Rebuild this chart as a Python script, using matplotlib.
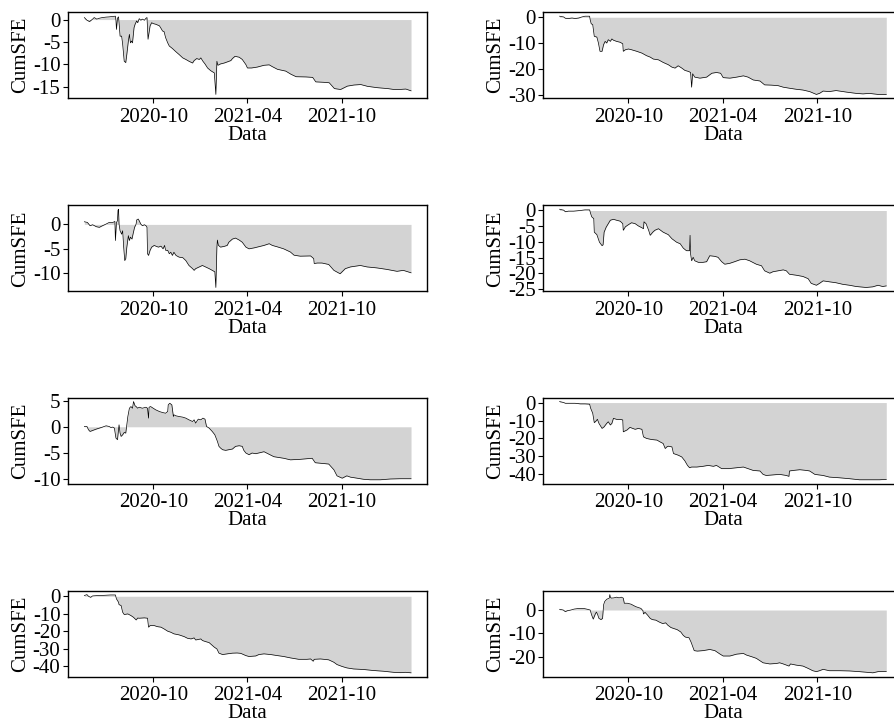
import matplotlib
matplotlib.use("Agg")
import matplotlib.pyplot as plt
import pandas as pd

plt.rcParams['font.family'] = ['Liberation Serif', 'DejaVu Serif']
plt.rcParams['axes.unicode_minus'] = False

# x values are days counted from 2020-10-01
ORIGIN = pd.Timestamp("2020-10-01")
x_ticks = ["2020-10-01", "2021-04-01", "2021-10-01"]
x_tick_labels = ["2020-10", "2021-04", "2021-10"]

p1_day = [-133, -128, -123, -117, -114, -109, -104, -98, -91, -85, -78, -73, -72, -71, -69, -67, -66, -64,
          -61, -59, -56, -53, -51, -48, -46, -44, -42, -40, -37, -35, -32, -30, -27, -24, -21, -17, -14, -12,
          -10, -8, -6, -3, 0, 5, 12, 15, 18, 21, 24, 28, 31, 37, 44, 50, 57, 63, 69, 76, 79, 84, 89, 92, 96,
          100, 105, 111, 118, 121, 123, 125, 130, 137, 143, 150, 153, 158, 166, 172, 179, 182, 190, 201, 214,
          224, 230, 240, 256, 266, 276, 295, 308, 314, 330, 340, 350, 362, 375, 388, 401, 414, 433, 453, 465,
          475, 488, 498]
p1_cum = [0.45, -0.15, -0.45, 0.1, 0.45, 0.1, 0.3, 0.45, 0.55, 0.6, 0.7, 0.75, -0.15, -2.2, 0.3, 0.6, -0.7,
          -3.7, -3.7, -5.5, -9.3, -9.6, -7.8, -4.8, -3.3, -5.2, -4.8, -5.2, -1.8, -1.05, -0.3, -0.7, 0.2, -0.15,
          0.1, -0.15, 0.3, 0.45, -4.4, -2.9, -1.4, -0.7, -0.9, -1.05, -1.4, -1.95, -2.55, -2.7, -4.05, -5.2,
          -5.9, -6.45, -7.2, -7.8, -8.55, -8.9, -9.3, -9.7, -9.15, -8.7, -8.9, -8.55, -9.3, -9.9, -10.8, -11.4,
          -11.9, -16.7, -9.3, -10.2, -9.9, -9.7, -9.45, -9.15, -8.7, -8.2, -8.4, -8.9, -10.05, -10.8, -10.8,
          -10.6, -10.2, -10.1, -10.5, -11.1, -11.5, -12.2, -12.75, -12.8, -12.9, -13.9, -14.0, -14.1, -15.4,
          -15.6, -14.85, -14.6, -14.5, -14.9, -15.2, -15.4, -15.6, -15.6, -15.5, -15.9]

p2_day = [-133, -125, -122, -116, -109, -103, -96, -90, -84, -75, -74, -72, -69, -66, -61, -58, -55, -51,
          -48, -45, -42, -39, -35, -32, -29, -23, -16, -11, -10, -6, 0, 6, 16, 26, 35, 42, 48, 58, 67, 77, 84,
          90, 96, 103, 109, 116, 120, 122, 124, 128, 138, 151, 161, 170, 178, 183, 196, 209, 222, 231, 241,
          254, 263, 276, 289, 299, 311, 324, 337, 350, 363, 369, 376, 388, 401, 421, 440, 453, 465, 482, 498]
p2_cum = [0.4, 0.1, -0.4, -0.5, -0.3, -0.5, -0.3, 0.1, 0.4, 0.4, -0.9, -2.5, -2.9, -7.4, -7.7, -10.0, -13.2,
          -13.2, -10.6, -9.35, -10.0, -8.7, -9.35, -8.4, -8.9, -9.35, -9.7, -10.3, -13.2, -12.6, -12.3, -12.6,
          -13.2, -13.9, -14.9, -15.45, -16.2, -16.5, -17.5, -18.4, -19.35, -19.7, -18.8, -19.7, -20.6, -21.0,
          -21.4, -27.1, -21.9, -23.2, -23.6, -23.2, -21.7, -21.4, -21.7, -23.4, -23.6, -23.2, -22.7, -23.2,
          -24.3, -24.7, -26.2, -26.3, -26.5, -27.1, -27.5, -27.9, -28.2, -28.8, -29.9, -29.5, -28.6, -28.8,
          -28.4, -29.0, -29.5, -29.7, -29.5, -29.9, -29.9]

p3_day = [-133, -127, -122, -117, -110, -104, -98, -91, -85, -78, -74, -73, -71, -69, -68, -67, -66, -64,
          -61, -59, -57, -55, -53, -51, -48, -46, -44, -41, -39, -36, -33, -32, -29, -27, -24, -21, -17, -14,
          -12, -11, -9, -6, -3, 2, 6, 10, 15, 19, 22, 24, 28, 31, 34, 37, 40, 44, 50, 57, 63, 69, 76, 79, 82,
          89, 95, 101, 108, 114, 119, 121, 123, 124, 126, 130, 137, 143, 146, 153, 159, 166, 172, 179, 185,
          195, 214, 224, 230, 240, 252, 265, 272, 284, 304, 310, 311, 317, 326, 339, 349, 361, 371, 381, 400,
          413, 432, 451, 471, 483, 498]
p3_cum = [0.54, 0.4, -0.27, -0.07, -0.47, -0.6, -0.27, 0.07, 0.4, 0.4, 0.6, -3.3, 0.4, 0.74, 2.9, 3.1, 0.07,
          -1.3, -2.0, -1.3, -4.7, -7.4, -7.0, -4.7, -2.3, -3.3, -2.6, -3.0, -2.0, -0.6, 0.07, 0.9, 1.1, 0.74,
          0.07, -0.27, -0.07, -0.27, -0.6, -6.0, -6.35, -5.3, -4.65, -4.3, -4.5, -4.65, -4.45, -5.0, -4.3, -5.3,
          -5.3, -6.0, -5.7, -6.35, -5.7, -6.35, -6.7, -6.8, -7.4, -8.4, -9.05, -9.4, -9.05, -8.7, -8.4, -8.7,
          -9.05, -9.4, -9.7, -12.9, -4.7, -3.2, -4.3, -4.65, -4.5, -4.3, -3.65, -3.0, -2.8, -3.2, -3.65, -4.65,
          -5.0, -4.8, -4.3, -3.95, -4.3, -4.6, -5.0, -5.65, -6.3, -6.5, -6.45, -7.0, -8.0, -7.9, -7.9, -8.2,
          -9.4, -10.1, -9.05, -8.7, -8.4, -8.7, -8.9, -9.2, -9.6, -9.4, -9.9]

p4_day = [-133, -125, -122, -116, -106, -93, -84, -75, -73, -71, -67, -66, -61, -56, -51, -49, -47, -43, -39,
          -35, -29, -23, -16, -11, -10, -6, 0, 6, 13, 19, 26, 29, 30, 34, 39, 42, 47, 51, 58, 67, 77, 84, 93,
          100, 106, 112, 118, 119, 120, 122, 125, 128, 135, 144, 151, 157, 167, 173, 180, 186, 196, 205, 215,
          225, 234, 247, 257, 263, 273, 279, 289, 299, 305, 311, 324, 337, 347, 353, 363, 369, 376, 388, 401,
          414, 427, 440, 459, 472, 482, 491, 498]
p4_cum = [0.4, 0.1, -0.4, -0.2, -0.2, 0.0, 0.2, 0.2, -1.0, -2.0, -2.6, -6.9, -7.7, -10.1, -11.2, -10.9, -6.9,
          -5.3, -4.2, -3.1, -2.8, -3.1, -3.4, -4.2, -6.3, -5.2, -4.5, -3.9, -4.2, -4.9, -5.5, -5.8, -3.6, -4.2,
          -6.3, -7.9, -6.9, -6.3, -5.8, -6.9, -7.7, -9.0, -10.1, -10.6, -12.0, -12.8, -12.8, -7.9, -13.8, -16.0,
          -14.9, -16.0, -16.5, -16.5, -16.3, -14.4, -14.6, -14.9, -16.3, -17.1, -16.8, -16.3, -15.7, -15.5,
          -16.0, -17.1, -17.6, -19.2, -19.96, -19.5, -19.2, -18.9, -19.2, -20.3, -20.6, -21.0, -21.7, -23.2,
          -23.8, -23.2, -22.4, -22.7, -23.0, -23.5, -23.8, -24.2, -24.5, -24.3, -23.8, -24.2, -24.0]

p5_day = [-133, -128, -125, -122, -117, -110, -104, -98, -91, -85, -82, -78, -75, -72, -69, -67, -66, -64,
          -62, -59, -56, -53, -51, -49, -46, -43, -40, -38, -35, -33, -30, -27, -21, -14, -11, -9, -8, -5, 0, 5,
          12, 18, 24, 28, 29, 32, 36, 39, 40, 44, 50, 57, 63, 69, 76, 79, 82, 87, 92, 96, 100, 103, 108, 114,
          119, 124, 127, 130, 134, 140, 146, 153, 159, 166, 172, 175, 179, 185, 191, 198, 214, 220, 233, 252,
          265, 284, 307, 313, 339, 349, 355, 365, 374, 381, 394, 406, 419, 439, 458, 477, 498]
p5_cum = [0.06, 0.06, -0.57, -0.89, -0.7, -0.44, -0.25, -0.06, 0.19, 0.06, -0.13, -0.06, -0.25, -2.15,
          -2.46, -0.57, 0.38, -1.2, -1.84, -1.52, -1.08, -1.2, 0.38, 1.96, 3.54, 3.86, 3.54, 4.81, 3.99, 3.86,
          3.54, 3.73, 3.54, 3.73, 3.54, 1.65, 3.73, 3.86, 3.54, 3.23, 2.91, 2.72, 2.59, 2.91, 4.18, 4.49, 4.18,
          1.96, 2.28, 2.09, 1.96, 1.84, 1.65, 1.33, 1.01, 1.33, 0.7, 1.46, 1.33, 1.65, 1.46, 0.06, -0.25, -0.89,
          -1.52, -2.78, -3.73, -4.05, -4.37, -4.49, -4.37, -4.24, -3.73, -3.61, -3.73, -4.49, -5.0, -5.32,
          -5.0, -5.13, -4.75, -5.05, -5.7, -6.0, -6.3, -6.2, -6.0, -6.85, -7.1, -8.2, -9.35, -9.8, -9.35, -9.6,
          -9.8, -10.0, -10.1, -10.1, -9.95, -9.9, -9.9]

p6_day = [-133, -125, -122, -112, -103, -93, -84, -75, -73, -69, -66, -62, -60, -57, -51, -47, -42, -39,
          -35, -32, -29, -23, -16, -11, -10, -3, 3, 8, 13, 19, 26, 29, 35, 45, 55, 61, 67, 71, 74, 77, 84, 87,
          96, 103, 109, 114, 118, 122, 132, 144, 154, 164, 170, 180, 193, 209, 222, 231, 241, 254, 260, 266,
          283, 292, 305, 310, 311, 318, 331, 344, 350, 360, 376, 388, 408, 427, 446, 465, 485, 498]
p6_cum = [0.55, 0.0, -0.4, -0.4, -0.4, -0.75, -0.75, -0.9, -3.2, -6.0, -11.2, -10.1, -9.3, -11.6, -14.4,
          -13.5, -11.6, -10.7, -12.5, -11.6, -8.8, -9.35, -9.35, -9.7, -16.3, -15.3, -13.8, -14.4, -14.9, -14.4,
          -14.9, -19.1, -20.0, -20.6, -20.9, -21.9, -22.8, -25.6, -24.7, -24.3, -24.7, -28.4, -29.3, -30.3,
          -32.5, -35.0, -36.3, -35.9, -35.9, -35.5, -35.0, -35.5, -35.0, -36.8, -36.8, -36.3, -35.9, -36.8,
          -37.8, -38.1, -40.0, -40.6, -40.2, -40.0, -40.6, -41.1, -38.1, -37.8, -37.4, -37.8, -38.1, -40.0,
          -40.6, -41.5, -41.9, -42.4, -43.0, -43.0, -43.0, -42.8]

p7_day = [-133, -128, -125, -121, -117, -107, -94, -82, -73, -71, -67, -66, -62, -59, -56, -49, -43, -38,
          -33, -30, -27, -17, -11, -9, -6, 2, 8, 15, 21, 28, 34, 40, 50, 60, 66, 73, 79, 82, 92, 95, 101, 108,
          118, 123, 127, 134, 143, 153, 162, 169, 179, 185, 198, 204, 214, 227, 240, 252, 265, 281, 297, 304,
          309, 311, 323, 339, 349, 355, 365, 374, 387, 406, 426, 445, 464, 477, 487, 498]
p7_cum = [0.4, 0.95, 0.0, -0.6, 0.2, 0.4, 0.55, 0.75, 0.75, -1.5, -3.4, -4.75, -5.3, -9.1, -10.4, -10.05,
          -11.0, -12.0, -13.5, -12.4, -12.5, -12.3, -12.5, -17.6, -16.7, -16.7, -17.3, -17.6, -18.6, -19.9,
          -20.5, -21.4, -22.0, -23.0, -23.9, -24.3, -23.7, -24.9, -24.3, -25.2, -25.8, -26.4, -29.0, -30.0,
          -32.4, -33.2, -32.8, -32.4, -32.3, -32.5, -33.8, -34.3, -34.0, -33.2, -32.8, -33.2, -33.8, -34.3,
          -35.1, -35.9, -35.9, -35.7, -37.0, -35.9, -35.7, -36.2, -37.6, -38.9, -40.0, -40.8, -41.4, -41.7,
          -42.3, -42.7, -43.3, -43.5, -43.3, -43.6]

p8_day = [-133, -126, -122, -118, -111, -105, -95, -85, -79, -74, -71, -68, -64, -62, -60, -57, -53, -50,
          -48, -46, -42, -37, -36, -35, -33, -28, -23, -18, -14, -10, -8, -2, 5, 14, 24, 28, 29, 32, 37, 42, 46,
          53, 59, 66, 72, 76, 82, 88, 94, 101, 106, 110, 117, 121, 127, 133, 144, 157, 167, 177, 183, 196, 209,
          222, 228, 238, 247, 260, 273, 286, 292, 299, 310, 313, 324, 337, 347, 356, 363, 369, 376, 388, 408,
          427, 446, 462, 472, 482, 498]
p8_cum = [0.3, 0.0, -0.7, -0.3, 0.0, 0.4, 0.7, 0.6, 0.3, 0.0, -2.2, -3.9, -1.7, -0.9, -1.7, -3.6, -4.1,
          -3.6, 2.2, 3.6, 4.6, 5.1, 6.6, 5.5, 5.1, 5.2, 5.5, 5.2, 5.5, 5.1, 2.9, 2.9, 2.5, 1.45, 0.7, -0.3,
          -1.7, -1.0, -2.2, -3.6, -4.1, -4.35, -5.1, -5.8, -5.5, -6.5, -7.5, -7.97, -8.4, -9.4, -10.9, -11.6,
          -11.9, -13.8, -17.4, -17.6, -17.4, -16.9, -17.4, -18.9, -19.7, -19.7, -18.9, -18.6, -19.3, -20.0,
          -20.7, -22.6, -23.1, -22.9, -22.6, -23.1, -24.0, -23.1, -23.6, -24.0, -25.0, -26.0, -26.4, -26.0,
          -25.4, -26.0, -26.0, -26.1, -26.4, -26.7, -26.9, -26.4, -26.3]

p1_yticks = [0, -5, -10, -15]
p2_yticks = [0, -10, -20, -30]
p3_yticks = [0, -5, -10]
p4_yticks = [0, -5, -10, -15, -20, -25]
p5_yticks = [5, 0, -5, -10]
p6_yticks = [0, -10, -20, -30, -40]
p7_yticks = [0, -10, -20, -30, -40]
p8_yticks = [0, -10, -20]

panels = [
    (p1_day, p1_cum, p1_yticks), (p2_day, p2_cum, p2_yticks),
    (p3_day, p3_cum, p3_yticks), (p4_day, p4_cum, p4_yticks),
    (p5_day, p5_cum, p5_yticks), (p6_day, p6_cum, p6_yticks),
    (p7_day, p7_cum, p7_yticks), (p8_day, p8_cum, p8_yticks),
]

fig = plt.figure(figsize=(8.95, 7.23), dpi=100)
lefts = [0.076, 0.607]
bottoms = [0.864, 0.597, 0.331, 0.064]
fs = 15

for i, (day, cum, yt) in enumerate(panels):
    ax = fig.add_axes([lefts[i % 2], bottoms[i // 2], 0.4015, 0.119])
    dates = (ORIGIN + pd.to_timedelta(day, unit="D")).to_numpy()
    ax.fill_between(dates, 0, cum, color="lightgray", lw=0)
    ax.plot(dates, cum, color="black", lw=0.5)
    ax.margins(x=0.05, y=0.05)
    ax.set_xticks(pd.to_datetime(x_ticks).to_numpy())
    ax.set_xticklabels(x_tick_labels)
    ax.set_yticks(yt)
    ax.set_yticklabels([str(v) for v in yt])
    ax.tick_params(direction='out', length=3.5, width=0.8, labelsize=fs, pad=2, colors='black')
    ax.tick_params(axis='x', pad=3.5)
    for sp in ax.spines.values():
        sp.set_linewidth(1.0)
        sp.set_color('black')
    ax.set_xlabel('Data', fontsize=fs, labelpad=-1)
    ax.set_ylabel('CumSFE', fontsize=fs, labelpad=2)

plt.savefig('out.png', dpi=100)
